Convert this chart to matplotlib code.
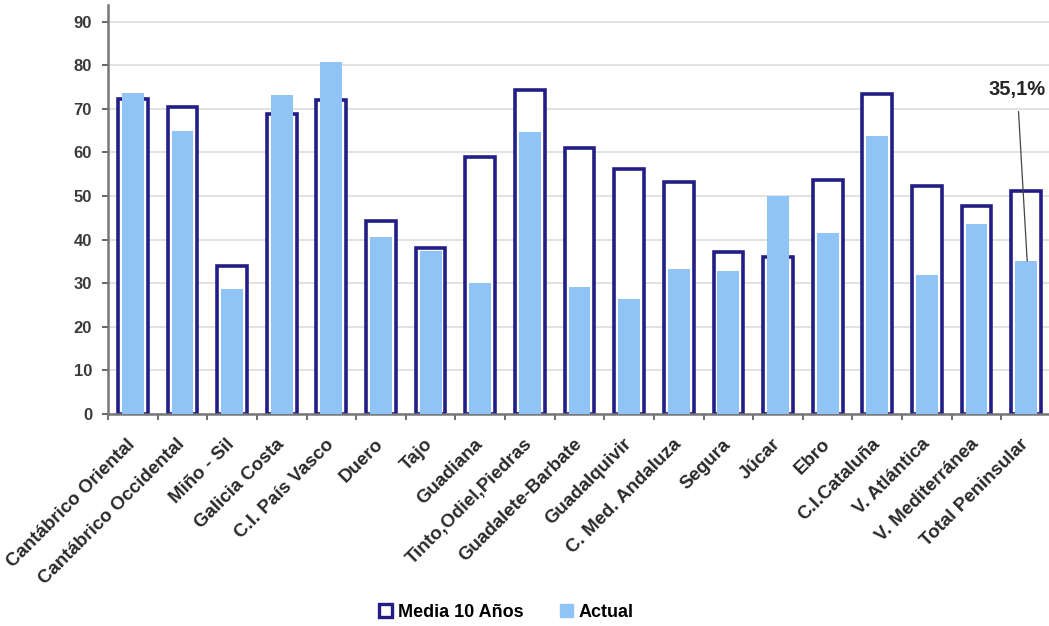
import matplotlib
matplotlib.use("Agg")
import matplotlib.pyplot as plt
from matplotlib.patches import Patch
import numpy as np

plt.rcParams["font.family"] = ["Liberation Sans", "DejaVu Sans"]
plt.rcParams["font.weight"] = "bold"

cuencas = [
    "Cantábrico Oriental", "Cantábrico Occidental", "Miño - Sil", "Galicia Costa",
    "C.I. País Vasco", "Duero", "Tajo", "Guadiana", "Tinto,Odiel,Piedras",
    "Guadalete-Barbate", "Guadalquivir", "C. Med. Andaluza", "Segura", "Júcar",
    "Ebro", "C.I.Cataluña", "V. Atlántica", "V. Mediterránea", "Total Peninsular",
]
media_10 = [72.2, 70.3, 34.0, 68.9, 72.1, 44.3, 38.1, 59.0, 74.2, 61.0,
            56.2, 53.3, 37.2, 36.0, 53.7, 73.4, 52.3, 47.8, 51.2]
actual = [73.7, 65.0, 28.7, 73.2, 80.8, 40.6, 37.4, 30.0, 64.6, 29.1,
          26.3, 33.2, 32.9, 50.0, 41.5, 63.7, 31.9, 43.6, 35.1]

navy = "#221E86"
light = "#90C4F6"

fig = plt.figure(figsize=(10.49, 6.26), dpi=100)
ax = fig.add_axes([108 / 1049, 212 / 626, 943 / 1049, 409 / 626])

x = np.arange(len(cuencas))
ax.bar(x, media_10, width=0.6, facecolor="white", edgecolor=navy,
       linewidth=2.6, zorder=2)
ax.bar(x, actual, width=0.44, color=light, linewidth=0, zorder=3)

ax.set_xlim(-0.5, len(cuencas) - 0.5)
ax.set_ylim(0, 93.8)
ax.set_yticks(range(0, 91, 10))
ax.yaxis.grid(True, color="#dddddd", linewidth=1.2, zorder=0)
ax.set_axisbelow(True)

ax.set_xticks(x)
ax.set_xticklabels(cuencas, rotation=45, ha="right", va="center",
                   rotation_mode="anchor", fontsize=13.5, fontweight="bold",
                   color="#2a2a2a")
ax.tick_params(axis="x", length=0, pad=20)
ax.set_xticks(np.arange(-0.5, len(cuencas), 1), minor=True)
ax.tick_params(axis="x", which="minor", length=4, color="#555555", width=1.2)
ax.tick_params(axis="y", length=4.5, color="#666666", width=1.4, labelsize=12,
               labelcolor="#3a3a3a", pad=7)

for s in ["top", "right"]:
    ax.spines[s].set_visible(False)
for s in ["left", "bottom"]:
    ax.spines[s].set_color("#777777")
    ax.spines[s].set_linewidth(1.8)

# etiqueta del total peninsular
ax.annotate("35,1%", xy=(x[-1] + 0.02, actual[-1]), xytext=(x[-1] - 0.18, 74.4),
            ha="center", va="center", fontsize=14.5, fontweight="bold", color="#262626",
            arrowprops=dict(arrowstyle="-", color="#444444", linewidth=0.9,
                            shrinkA=7, shrinkB=0), zorder=5)

handles = [Patch(facecolor="white", edgecolor=navy, linewidth=2.4, label="Media 10 Años"),
           Patch(facecolor=light, edgecolor=light, label="Actual")]
fig.legend(handles=handles, loc="center", bbox_to_anchor=(0.483, 0.022), ncol=2,
           frameon=False, fontsize=13, handlelength=0.7, handleheight=0.7,
           handletextpad=0.35, columnspacing=2.0)

fig.savefig("out.png", dpi=100)
